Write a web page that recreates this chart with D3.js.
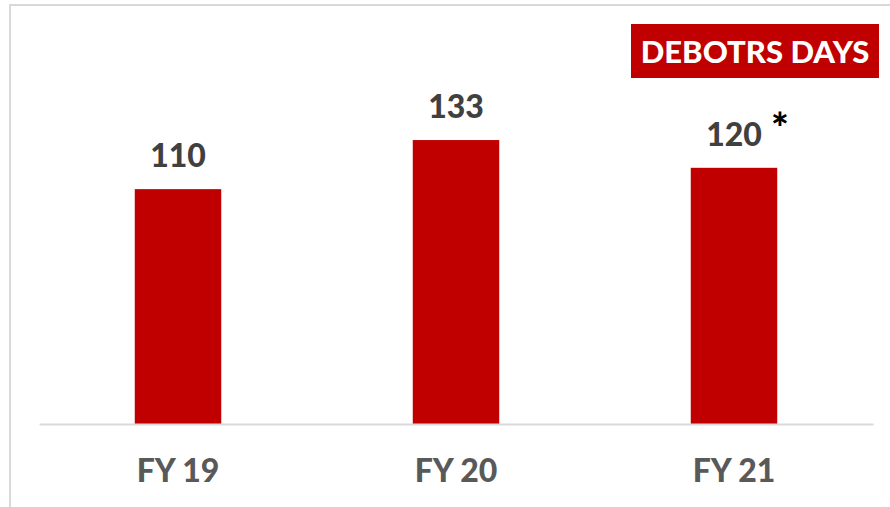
<!DOCTYPE html>
<html>
<head>
<meta charset="utf-8">
<script src="https://cdn.jsdelivr.net/npm/d3@7"></script>
<style>
  html, body { margin: 0; padding: 0; background: #fff; }
  svg { display: block; }
  .lbl { font-family: Lato, 'Open Sans', sans-serif; font-weight: 900; }
</style>
</head>
<body>
<div id="chart"></div>
<script>
'use strict';

/** Data */
const years = ["FY 19", "FY 20", "FY 21"];
const days = [110, 133, 120];
const notes = ["", "", "*"];
const title = "DEBOTRS DAYS";

/** Dimensions */
const w = 890;
const h = 507;
const axisY = 424;
const left = 39;
const right = 873;

const svg = d3.select("#chart")
    .append("svg")
    .attr("width", w)
    .attr("height", h);

// chart area frame (only top/left visible in the crop)
svg.append("rect")
    .attr("x", 10)
    .attr("y", 5)
    .attr("width", 900)
    .attr("height", 540)
    .attr("fill", "none")
    .attr("stroke", "#d9d9d9")
    .attr("stroke-width", 2);

/** Scales */
const xScale = d3.scaleBand()
    .domain(years)
    .range([left, right])
    .paddingInner(0.689)
    .paddingOuter(0.3445);

const yScale = d3.scaleLinear()
    .domain([0, 160])
    .range([axisY, axisY - 341.6]);

/** Bars */
svg.selectAll(".bar")
    .data(years)
    .enter()
    .append("rect")
    .attr("class", "bar")
    .attr("x", d => xScale(d))
    .attr("width", xScale.bandwidth())
    .attr("y", (d, i) => yScale(days[i]))
    .attr("height", (d, i) => axisY - yScale(days[i]))
    .attr("fill", "#c00000");

/** X axis */
const xAxis = d3.axisBottom(xScale).tickSize(0).tickPadding(0);
const gx = svg.append("g")
    .attr("transform", "translate(0," + axisY + ")")
    .call(xAxis);
gx.select(".domain")
    .attr("stroke", "#d9d9d9")
    .attr("stroke-width", 2);
gx.selectAll(".tick text")
    .attr("class", "lbl")
    .attr("dy", null)
    .attr("y", 58)
    .attr("fill", "#595959")
    .style("font-size", "32px");

/** Value labels */
svg.selectAll(".val")
    .data(years)
    .enter()
    .append("text")
    .attr("class", "val lbl")
    .attr("x", d => xScale(d) + xScale.bandwidth() / 2)
    .attr("y", (d, i) => yScale(days[i]) - 22)
    .attr("text-anchor", "middle")
    .attr("fill", "#404040")
    .style("font-size", "32px")
    .text((d, i) => days[i]);

svg.selectAll(".note")
    .data(years.filter((d, i) => notes[i]))
    .enter()
    .append("text")
    .attr("class", "note lbl")
    .attr("x", d => xScale(d) + xScale.bandwidth() / 2 + 37)
    .attr("y", d => yScale(days[years.indexOf(d)]) - 25)
    .attr("fill", "#000")
    .style("font-size", "42px")
    .text(d => notes[years.indexOf(d)]);

/** Title box */
svg.append("rect")
    .attr("x", 631)
    .attr("y", 24)
    .attr("width", 248)
    .attr("height", 54)
    .attr("fill", "#c00000");
svg.append("text")
    .attr("class", "lbl")
    .attr("x", 755)
    .attr("y", 63)
    .attr("text-anchor", "middle")
    .attr("fill", "#fff")
    .style("font-size", "31px")
    .text(title);
</script>
</body>
</html>
